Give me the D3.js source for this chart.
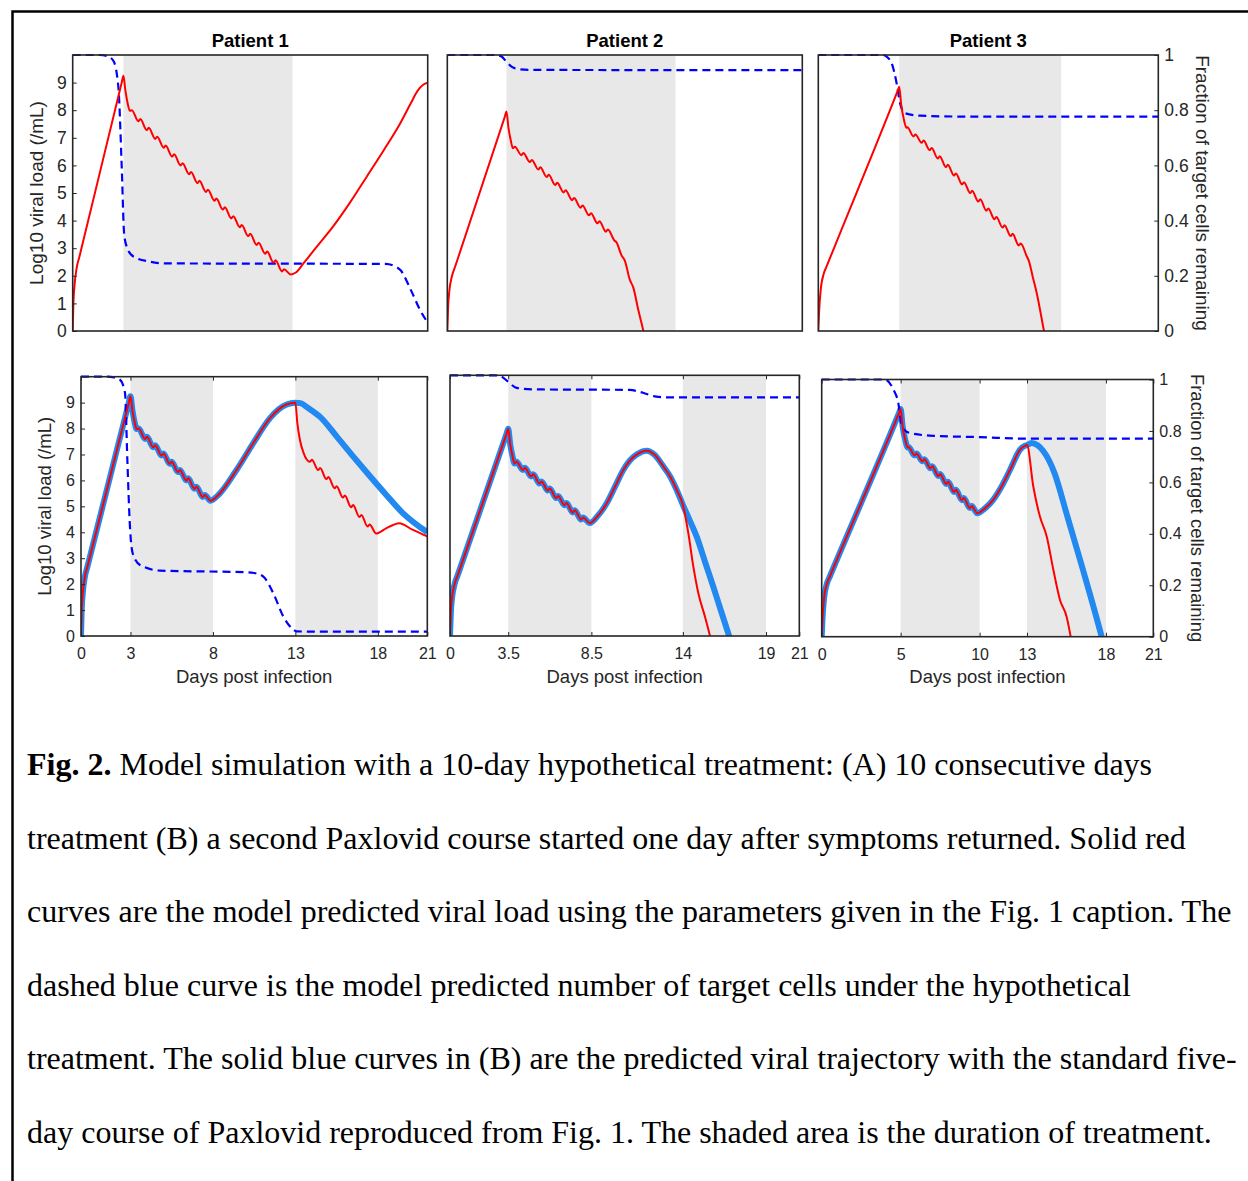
<!DOCTYPE html>
<html>
<head>
<meta charset="utf-8">
<script src="https://cdn.jsdelivr.net/npm/d3@7"></script>
<style>
  body { margin: 0; background: #fff; }
  svg { display: block; }
</style>
</head>
<body>
<svg id="fig" width="1248" height="1181"></svg>
<script>
// ---------------- data ----------------
const patientNames = ["Patient 1", "Patient 2", "Patient 3"];

// treatment windows (days post infection)
const shadeTenDay = [[3, 13], [3.5, 13.5], [5, 15]];
const shadeTwoCourse = [[[3, 8], [13, 18]], [[3.5, 8.5], [14, 19]], [[5, 10], [13, 18]]];

const vlTicks = [0, 1, 2, 3, 4, 5, 6, 7, 8, 9];
const fracTicks = [0, 0.2, 0.4, 0.6, 0.8, 1];
const dayTicks = [[0, 3, 8, 13, 18, 21], [0, 3.5, 8.5, 14, 19, 21], [0, 5, 10, 13, 18, 21]];

// log10 viral load, [day, value]; early part shared by both treatment schemes
const p1Early = [[0,0],[0.04,1.0],[0.1,1.6],[0.24,2.3],[0.4,2.7],[2.9,9.0],[3.0,9.25],[3.12,8.7],[3.25,8.25],[3.38,7.98],[3.5,8.0],
  [3.88,7.6],[4.0,7.68],[4.38,7.28],[4.5,7.36],[4.88,6.96],[5.0,7.04],[5.38,6.64],[5.5,6.72],[5.88,6.32],[6.0,6.4],
  [6.38,6.0],[6.5,6.08],[6.88,5.68],[7.0,5.76],[7.38,5.36],[7.5,5.44]];
const p1TenDay = [[7.88,5.04],[8.0,5.12],[8.38,4.72],[8.5,4.8],[8.88,4.4],[9.0,4.48],[9.38,4.08],[9.5,4.16],[9.88,3.76],
  [10.0,3.84],[10.38,3.44],[10.5,3.52],[10.88,3.12],[11.0,3.2],[11.38,2.8],[11.5,2.88],[11.88,2.48],[12.0,2.56],
  [12.38,2.16],[12.5,2.24],[12.9,2.05],[13.2,2.12],[13.65,2.45],[14.5,3.1],[15.42,3.8],[16.4,4.65],[17.4,5.6],
  [18.4,6.55],[19.37,7.52],[20.0,8.25],[20.4,8.7],[20.75,8.93],[21.0,9.0]];
const p1Rebound = [[7.85,5.22],[8.3,5.42],[9.44,6.41],[10.45,7.44],[11.46,8.4],[12.0,8.75],[12.47,8.93],[13.0,9.0]];
const p1SecondCourse = [[13.12,8.2],[13.28,7.55],[13.5,7.05],[13.88,6.72],[14.0,6.8],[14.38,6.4],[14.5,6.48],[14.88,6.05],
  [15.0,6.13],[15.38,5.7],[15.5,5.78],[15.88,5.34],[16.0,5.42],[16.38,4.97],[16.5,5.05],[16.88,4.59],[17.0,4.67],
  [17.38,4.22],[17.5,4.3],[17.9,3.95],[18.5,4.15],[19.3,4.35],[20.1,4.1],[21.0,3.84]];
const p1FiveDay = [[13.3,8.98],[13.8,8.78],[14.5,8.45],[15.5,7.7],[16.5,6.93],[17.5,6.18],[18.5,5.45],[19.5,4.75],[21.0,4.0]];

const p2Early = [[0,0],[0.05,0.9],[0.12,1.45],[0.28,2.0],[0.45,2.31],[3.4,7.76],[3.5,7.95],[3.62,7.35],[3.75,6.92],[3.88,6.62],[4.0,6.68],
  [4.38,6.37],[4.5,6.45],[4.88,6.12],[5.0,6.2],[5.38,5.85],[5.5,5.93],[5.88,5.58],[6.0,5.66],[6.38,5.29],[6.5,5.37],
  [6.88,5.02],[7.0,5.1],[7.38,4.74],[7.5,4.82],[7.88,4.47],[8.0,4.55]];
const p2TenDay = [[8.38,4.19],[8.5,4.27],[8.88,3.9],[9.0,3.98],[9.38,3.6],[9.5,3.68],[9.88,3.28],[10.0,3.22],[10.3,2.75],
  [10.5,2.55],[10.8,1.85],[11.0,1.58],[11.3,0.76],[11.6,0.0],[11.8,-0.55]];
const p2Rebound = [[8.4,4.33],[8.9,4.62],[9.42,5.09],[9.9,5.7],[10.42,6.37],[10.8,6.72],[11.22,6.96],[11.83,7.11],
  [12.3,6.95],[12.83,6.5],[13.25,6.1],[13.63,5.6],[14.0,5.03]];
const p2SecondCourse = [[14.33,3.94],[14.63,2.66],[14.93,1.64],[15.33,0.74],[15.63,0],[15.8,-0.5]];
const p2FiveDay = [[14.4,4.45],[14.83,3.81],[15.33,2.85],[15.83,1.89],[16.3,0.95],[16.78,0],[17.0,-0.45]];

const p3Early = [[0,0],[0.05,0.7],[0.15,1.5],[0.35,2.1],[0.5,2.32],[4.9,8.7],[5.0,8.85],[5.12,8.2],[5.28,7.68],[5.45,7.36],[5.5,7.38],
  [5.88,7.05],[6.0,7.12],[6.38,6.82],[6.5,6.9],[6.88,6.55],[7.0,6.63],[7.38,6.25],[7.5,6.33],[7.88,5.94],[8.0,6.02],
  [8.38,5.63],[8.5,5.71],[8.88,5.31],[9.0,5.39],[9.38,5.0],[9.5,5.08]];
const p3TenDay = [[9.88,4.69],[10.0,4.77],[10.38,4.36],[10.5,4.44],[10.88,4.05],[11.0,4.13],[11.38,3.75],[11.5,3.83],
  [11.88,3.44],[12.0,3.52],[12.38,3.1],[12.5,3.17],[12.88,2.7],[13.0,2.55],[13.25,1.95],[13.5,1.35],[13.75,0.6],
  [13.94,0],[14.1,-0.4]];
const p3Rebound = [[9.85,4.8],[10.3,4.97],[10.87,5.33],[11.4,5.85],[11.93,6.49],[12.56,7.27],[12.9,7.43],[13.0,7.45]];
const p3SecondCourse = [[13.4,5.84],[13.82,4.67],[14.25,3.9],[14.67,2.6],[15.09,1.43],[15.51,0.78],[15.77,0],[15.9,-0.4]];
const p3FiveDay = [[13.3,7.53],[13.65,7.45],[14.03,7.22],[14.4,6.85],[14.75,6.35],[15.5,4.8],[16.5,2.7],[17.73,0],[17.9,-0.4]];

// fraction of target cells remaining, [day, fraction]
const p1TargetTenDay = [[0,1],[1.6,1],[2.0,0.997],[2.4,0.98],[2.7,0.885],[2.9,0.595],[3.04,0.354],[3.2,0.305],[3.59,0.27],
  [4.57,0.251],[5.5,0.245],[18.5,0.243],[19.0,0.236],[19.4,0.22],[20.0,0.149],[20.55,0.076],[21,0.03]];
const p1TargetTwoCourse = [[0,1],[1.6,1],[2.0,0.997],[2.37,0.988],[2.67,0.937],[2.81,0.68],[2.97,0.42],[3.13,0.32],
  [3.58,0.274],[4.8,0.252],[10.0,0.246],[10.5,0.243],[11.06,0.229],[11.66,0.165],[12.27,0.075],[12.78,0.03],
  [13.08,0.018],[14,0.017],[21,0.017]];
const p2TargetTenDay = [[0,1],[2.8,1],[3.2,0.995],[3.5,0.975],[3.8,0.958],[4.1,0.95],[4.9,0.946],[21,0.945]];
const p2TargetTwoCourse = [[0,1],[2.8,1],[3.1,0.995],[3.5,0.975],[4.0,0.952],[5.0,0.946],[10.8,0.944],[11.6,0.933],
  [12.4,0.918],[13.2,0.915],[21,0.915]];
const p3TargetTenDay = [[0,1],[4.0,1],[4.3,0.99],[4.53,0.97],[4.84,0.897],[5.05,0.825],[5.36,0.789],[6.3,0.78],[9,0.777],[21,0.777]];
const p3TargetTwoCourse = [[0,1],[4.0,1],[4.54,0.961],[4.85,0.909],[5.07,0.818],[5.3,0.8],[5.59,0.792],[7.07,0.781],
  [10,0.776],[13,0.77],[21,0.77]];

const captionLines = [
  "Model simulation with a 10-day hypothetical treatment: (A) 10 consecutive days",
  "treatment (B) a second Paxlovid course started one day after symptoms returned. Solid red",
  "curves are the model predicted viral load using the parameters given in the Fig. 1 caption. The",
  "dashed blue curve is the model predicted number of target cells under the hypothetical",
  "treatment. The solid blue curves in (B) are the predicted viral trajectory with the standard five-",
  "day course of Paxlovid reproduced from Fig. 1. The shaded area is the duration of treatment."
];

// ---------------- layout ----------------
const svg = d3.select("#fig");
const SANS = "'Liberation Sans', Arial, Helvetica, sans-serif";
const INK = "#262626";

// outer frame of the figure box
svg.append("path")
  .attr("d", "M12.5,1181 V11.5 H1248")
  .attr("fill", "none").attr("stroke", "#000").attr("stroke-width", 2.5);

const panels = [
  // row A: ten consecutive days
  { box: [72.7, 427.7, 55, 331], shade: [shadeTenDay[0]], red: p1Early.concat(p1TenDay), target: p1TargetTenDay,
    title: patientNames[0], left: true, tick: 17.5, lab: 19 },
  { box: [447.3, 802.3, 55, 331], shade: [shadeTenDay[1]], red: p2Early.concat(p2TenDay), target: p2TargetTenDay,
    title: patientNames[1], tick: 17.5, lab: 19 },
  { box: [818.3, 1158.3, 55, 331], shade: [shadeTenDay[2]], red: p3Early.concat(p3TenDay), target: p3TargetTenDay,
    title: patientNames[2], right: true, tick: 17.5, lab: 19 },
  // row B: second course after rebound
  { box: [81, 427.3, 376.7, 636], shade: shadeTwoCourse[0], red: p1Early.concat(p1Rebound, p1SecondCourse),
    blue: p1Early.concat(p1Rebound, p1FiveDay), target: p1TargetTwoCourse, left: true, xt: dayTicks[0], tick: 16, lab: 18.5 },
  { box: [450, 799.3, 375.3, 636], shade: shadeTwoCourse[1], red: p2Early.concat(p2Rebound, p2SecondCourse),
    blue: p2Early.concat(p2Rebound, p2FiveDay), target: p2TargetTwoCourse, xt: dayTicks[1], tick: 16, lab: 18.5 },
  { box: [821.7, 1153.3, 379.5, 636.7], shade: shadeTwoCourse[2], red: p3Early.concat(p3Rebound, p3SecondCourse),
    blue: p3Early.concat(p3Rebound, p3FiveDay), target: p3TargetTwoCourse, right: true, xt: dayTicks[2], tick: 16, lab: 18.5 }
];

panels.forEach((p, i) => {
  const [x0, x1, y0, y1] = p.box;
  const x = d3.scaleLinear().domain([0, 21]).range([x0, x1]);
  const yV = d3.scaleLinear().domain([0, 10]).range([y1, y0]);
  const yF = d3.scaleLinear().domain([0, 1]).range([y1, y0]);
  const g = svg.append("g");

  const clipId = "clip" + i;
  g.append("clipPath").attr("id", clipId).append("rect")
    .attr("x", x0).attr("y", y0 - 2).attr("width", x1 - x0).attr("height", y1 - y0 + 2);

  // treatment shading
  g.selectAll("rect.shade").data(p.shade).join("rect").attr("class", "shade")
    .attr("x", d => x(d[0])).attr("width", d => x(d[1]) - x(d[0]))
    .attr("y", y0).attr("height", y1 - y0).attr("fill", "#e8e8e8");

  const plot = g.append("g").attr("clip-path", `url(#${clipId})`);
  const lineV = d3.line().x(d => x(d[0])).y(d => yV(d[1])).curve(d3.curveMonotoneX);
  const lineF = d3.line().x(d => x(d[0])).y(d => yF(d[1])).curve(d3.curveMonotoneX);

  if (p.blue) {
    plot.append("path").datum(p.blue).attr("d", lineV)
      .attr("fill", "none").attr("stroke", "#2189f0").attr("stroke-width", 6)
      .attr("stroke-linejoin", "round").attr("stroke-linecap", "butt");
  }
  plot.append("path").datum(p.target).attr("d", lineF)
    .attr("fill", "none").attr("stroke", "#0000ff").attr("stroke-width", 2.2)
    .attr("stroke-dasharray", "8,5");
  plot.append("path").datum(p.red).attr("d", lineV)
    .attr("fill", "none").attr("stroke", "#ff0000").attr("stroke-width", 2)
    .attr("stroke-linejoin", "round");

  // axes box
  g.append("rect").attr("x", x0).attr("y", y0).attr("width", x1 - x0).attr("height", y1 - y0)
    .attr("fill", "none").attr("stroke", INK).attr("stroke-width", 1.6);

  if (p.left) {
    const ax = d3.axisLeft(yV).tickValues(vlTicks).tickSizeInner(-4).tickSizeOuter(0).tickPadding(6);
    const a = g.append("g").attr("transform", `translate(${x0},0)`).call(ax);
    a.select(".domain").remove();
    a.selectAll("line").attr("stroke", INK);
    a.selectAll("text").attr("font-family", SANS).attr("font-size", p.tick).attr("fill", INK);
    g.append("text")
      .attr("transform", `translate(${x0 - 30},${(y0 + y1) / 2}) rotate(-90)`)
      .attr("text-anchor", "middle").attr("font-family", SANS).attr("font-size", p.lab).attr("fill", INK)
      .text("Log10 viral load (/mL)");
  }
  if (p.right) {
    const ax = d3.axisRight(yF).tickValues(fracTicks).tickFormat(d3.format("~g"))
      .tickSizeInner(-4).tickSizeOuter(0).tickPadding(6);
    const a = g.append("g").attr("transform", `translate(${x1},0)`).call(ax);
    a.select(".domain").remove();
    a.selectAll("line").attr("stroke", INK);
    a.selectAll("text").attr("font-family", SANS).attr("font-size", p.tick).attr("fill", INK);
    g.append("text")
      .attr("transform", `translate(${x1 + 38},${(y0 + y1) / 2}) rotate(90)`)
      .attr("text-anchor", "middle").attr("font-family", SANS).attr("font-size", p.lab).attr("fill", INK)
      .text("Fraction of target cells remaining");
  }
  if (p.xt) {
    const ax = d3.axisBottom(x).tickValues(p.xt).tickFormat(d3.format("~g"))
      .tickSizeInner(-4).tickSizeOuter(0).tickPadding(12);
    const a = g.append("g").attr("transform", `translate(0,${y1})`).call(ax);
    a.select(".domain").remove();
    a.selectAll("line").attr("stroke", INK);
    a.selectAll("text").attr("font-family", SANS).attr("font-size", p.tick).attr("fill", INK);
    const top = d3.axisTop(x).tickValues(p.xt).tickSizeInner(-4).tickSizeOuter(0).tickFormat("");
    const t = g.append("g").attr("transform", `translate(0,${y0})`).call(top);
    t.select(".domain").remove();
    t.selectAll("line").attr("stroke", INK);
    g.append("text")
      .attr("x", (x0 + x1) / 2).attr("y", 683)
      .attr("text-anchor", "middle").attr("font-family", SANS).attr("font-size", p.lab).attr("fill", INK)
      .text("Days post infection");
  }
  if (p.title) {
    g.append("text")
      .attr("x", (x0 + x1) / 2).attr("y", 47)
      .attr("text-anchor", "middle").attr("font-family", SANS).attr("font-size", 18.5)
      .attr("font-weight", "bold").attr("fill", "#000")
      .text(p.title);
  }
});

// ---------------- caption ----------------
const SERIF = "'Liberation Serif', 'Times New Roman', serif";
const cap = svg.append("g").attr("font-family", SERIF).attr("font-size", 32).attr("fill", "#000");
captionLines.forEach((line, i) => {
  const t = cap.append("text").attr("x", 27).attr("y", 775 + i * 73.6);
  if (i === 0) {
    t.append("tspan").attr("font-weight", "bold").text("Fig. 2.");
    t.append("tspan").text(" " + line);
  } else {
    t.text(line);
  }
});
</script>
</body>
</html>
